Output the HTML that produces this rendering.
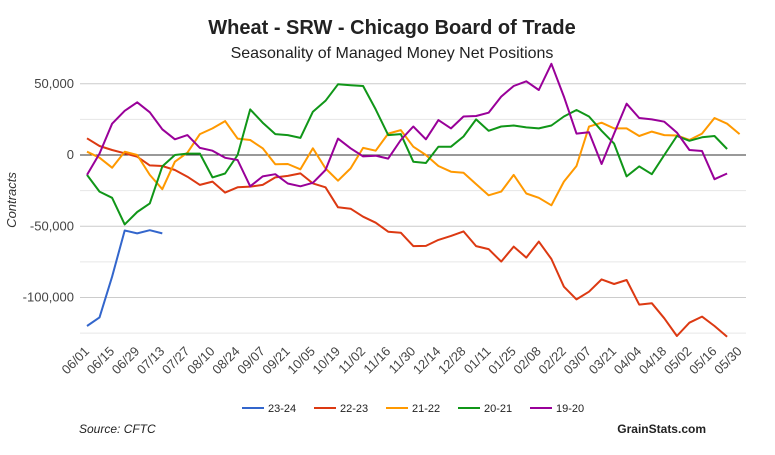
<!DOCTYPE html>
<html><head><meta charset="utf-8"><style>
body{margin:0;background:#fff;font-family:"Liberation Sans",Arial,sans-serif}
svg text{font-family:"Liberation Sans",Arial,sans-serif}
</style></head><body>
<svg id="chart" width="775" height="450" xmlns="http://www.w3.org/2000/svg">
<text x="392" y="34" text-anchor="middle" font-size="20" font-weight="bold" fill="#222">Wheat - SRW - Chicago Board of Trade</text>
<text x="392" y="58" text-anchor="middle" font-size="16" fill="#222">Seasonality of Managed Money Net Positions</text>
<text transform="translate(16,200) rotate(-90)" text-anchor="middle" font-size="13" font-style="italic" fill="#333">Contracts</text>
<g id="grid"></g><g id="series"></g><g id="xlabels"></g>
<g id="legend"></g>
<text x="79" y="433" font-size="12" font-style="italic" fill="#222">Source: CFTC</text>
<text x="706" y="433" text-anchor="end" font-size="12" font-weight="bold" fill="#222">GrainStats.com</text>
</svg>
<script>
const xLabels=["06/01","06/15","06/29","07/13","07/27","08/10","08/24","09/07","09/21","10/05","10/19","11/02","11/16","11/30","12/14","12/28","01/11","01/25","02/08","02/22","03/07","03/21","04/04","04/18","05/02","05/16","05/30"];
const yTicks=[50000,25000,0,-25000,-50000,-75000,-100000,-125000];
const seriesNames=["23-24","22-23","21-22","20-21","19-20"];
const seriesColors=["#3366cc","#dc3912","#ff9900","#109618","#990099"];
const s2324=[-120,-114,-85.4,-53,-55,-52.8,-55];
const s2223=[11.7,6.3,3.5,1.2,-1.2,-7.3,-7.7,-10.5,-15.2,-21,-18.7,-26.4,-22.7,-22.2,-21,-15.7,-14.7,-12.9,-19.9,-22.7,-36.7,-37.7,-43.3,-47.5,-53.8,-54.5,-63.9,-63.8,-59.6,-56.8,-53.6,-63.9,-66,-74.8,-64.3,-72,-60.8,-73,-92.4,-101.3,-95.9,-87.3,-90.5,-87.7,-105,-104,-114.6,-127,-117.7,-113.4,-120,-127.5];
const s2122=[2.3,-1.9,-8.9,2.3,0,-14,-24,-4.7,1.6,14.7,18.7,23.8,11.5,10.5,4.7,-6.5,-6.3,-10,4.7,-9.4,-18,-9.4,5,3,15,17.5,5.8,0,-7.7,-11.7,-12.4,-20.4,-28.3,-25.7,-14,-27,-30,-35.3,-18.7,-7.7,19.9,22.7,18.7,18.7,13.3,16.4,14,13.7,10.5,15,26,22,14.7];
const s2021=[-14,-25.7,-30,-48.7,-40,-34,-8,0,1,1,-15.7,-13,0,32,22.7,14.7,14,12,30.4,38,49.6,49,48.4,32,14,14.7,-4.7,-5.6,5.8,5.8,13,25,17,20,20.7,19.4,18.7,20.7,27,31.6,27,17,8,-15,-8,-13.5,0,13.3,10,12.4,13.3,4.2];
const s1920=[-14,1,22,31,37,30,18,11,14,5,3,-2,-3.5,-22,-15,-13.5,-20,-22,-19.5,-10.5,11.5,4.7,-1,-0.5,-2.5,10.5,20,11,24.5,18.7,27,27.4,29.7,41,48.4,51.7,45.6,64,41,15,16,-6.3,15,36,26,25,23.4,15.7,3.5,2.8,-17,-13];
const allSeries=[s2324,s2223,s2122,s2021,s1920];
const NS="http://www.w3.org/2000/svg";
const xScale=i=>87+i*12.55;
const yScale=v=>155-v*1.425/1000;
function mk(tag,attrs,parent){const e=document.createElementNS(NS,tag);for(const k in attrs)e.setAttribute(k,attrs[k]);parent.appendChild(e);return e;}
const grid=document.getElementById('grid');
yTicks.forEach(t=>{
  const l=mk('line',{x1:80,x2:746,y1:yScale(t),y2:yScale(t),stroke:t===0?'#333':(t%50000===0?'#ccc':'#e6e6e6'),'stroke-width':1},grid);
  
  
  if(t%50000===0){
    const tx=mk('text',{x:74,y:yScale(t)+4,'text-anchor':'end','font-size':13,fill:'#444'},grid);
    tx.textContent=t.toLocaleString('en-US');
    
    
  }
});
const sg=document.getElementById('series');
allSeries.forEach((d,si)=>{
  const pts=d.map((v,i)=>xScale(i).toFixed(1)+','+yScale(v*1000).toFixed(1)).join(' ');
  const p=mk('polyline',{points:pts,fill:'none',stroke:seriesColors[si],'stroke-width':2,'stroke-linejoin':'round'},sg);
  
  
});
const xl=document.getElementById('xlabels');
xLabels.forEach((lab,k)=>{
  const x=xScale(k*2)+3,y=352;
  const t=mk('text',{x:x,y:y,'text-anchor':'end','font-size':13,fill:'#444',transform:`rotate(-45 ${x} ${y})`},xl);
  t.textContent=lab;
  
  
});
const lg=document.getElementById('legend');
const lx=[242,314,386,458,530];
seriesNames.forEach((n,i)=>{
  const g=mk('g',{},lg);
  
  
  mk('line',{x1:lx[i],x2:lx[i]+22,y1:408,y2:408,stroke:seriesColors[i],'stroke-width':2},g);
  const t=mk('text',{x:lx[i]+26,y:412,'font-size':11,fill:'#222'},g);
  t.textContent=n;
});
</script>
</body></html>
